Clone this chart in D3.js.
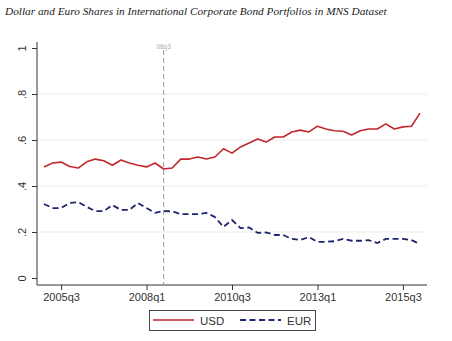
<!DOCTYPE html>
<head>
  <meta charset="utf-8">
  <script src="https://d3js.org/d3.v7.min.js"></script>
  <style>
    body { margin:0; background:#fff; }
    text { font-family: "Liberation Sans", Arial, sans-serif; }
  </style>
</head>
<body>
<script>

// quarterly shares, 2005q1 .. 2016q1
var quarters = [];
for (var yr = 2005; yr <= 2016; yr++) {
  for (var q = 1; q <= 4; q++) {
    if (yr == 2016 && q > 1) break;
    quarters.push(yr + "q" + q);
  }
}

var usd = [0.483, 0.500, 0.504, 0.485, 0.478, 0.505, 0.517, 0.510, 0.490, 0.513, 0.500, 0.490,
           0.483, 0.500, 0.474, 0.478, 0.517, 0.517, 0.526, 0.517, 0.526, 0.562, 0.543, 0.570,
           0.587, 0.604, 0.591, 0.613, 0.613, 0.635, 0.643, 0.635, 0.660, 0.648, 0.640, 0.638,
           0.622, 0.640, 0.648, 0.648, 0.670, 0.648, 0.657, 0.660, 0.717];

var eur = [0.322, 0.304, 0.304, 0.326, 0.330, 0.309, 0.291, 0.291, 0.317, 0.296, 0.296, 0.326,
           0.304, 0.283, 0.291, 0.290, 0.278, 0.278, 0.278, 0.283, 0.265, 0.222, 0.252, 0.217,
           0.220, 0.196, 0.198, 0.187, 0.187, 0.170, 0.165, 0.178, 0.157, 0.157, 0.160, 0.170,
           0.162, 0.162, 0.165, 0.152, 0.170, 0.170, 0.170, 0.165, 0.148];

var xTicks = ["2005q3", "2008q1", "2010q3", "2013q1", "2015q3"];
var yTicks = [0, 0.2, 0.4, 0.6, 0.8, 1];
var markQuarter = "2008q3";
var markLabel = "08q3";

var width = 452, height = 341;
var plot = {left: 37, right: 427, top: 42, bottom: 285};

var svg = d3.select("body").append("svg")
    .attr("width", width)
    .attr("height", height);

var x = d3.scaleLinear()
    .domain([0, quarters.length - 1])
    .range([44, 420]);
var y = d3.scaleLinear()
    .domain([0, 1])
    .range([278, 48]);

// title
svg.append("text")
    .attr("x", 5).attr("y", 15)
    .style("font-family", "'Liberation Serif', 'Times New Roman', serif")
    .style("font-style", "italic")
    .style("font-size", "11.3px")
    .attr("fill", "#222")
    .text("Dollar and Euro Shares in International Corporate Bond Portfolios in MNS Dataset");

// gridlines
svg.append("g").selectAll("line")
  .data(yTicks.filter(function(d){ return d > 0 && d < 1; }))
  .enter().append("line")
    .attr("x1", plot.left).attr("x2", plot.right)
    .attr("y1", function(d){ return y(d); })
    .attr("y2", function(d){ return y(d); })
    .attr("stroke", "#ebebeb")
    .attr("stroke-width", 1);

// y axis
var yAxis = svg.append("g")
    .attr("transform", "translate(" + plot.left + ",0)")
    .call(d3.axisLeft(y).tickValues(yTicks).tickSize(5)
      .tickFormat(function(d){ return d == 0 || d == 1 ? String(d) : String(d).replace("0.", "."); }));
yAxis.select(".domain").remove();
yAxis.selectAll(".tick line").attr("stroke", "#333");
yAxis.selectAll(".tick text")
    .attr("x", null).attr("dy", null)
    .attr("transform", "translate(-11,0) rotate(-90)")
    .attr("text-anchor", "middle")
    .style("font-size", "11px")
    .attr("fill", "#333");

// x axis
var xAxis = svg.append("g")
    .attr("transform", "translate(0," + plot.bottom + ")")
    .call(d3.axisBottom(x)
      .tickValues(xTicks.map(function(t){ return quarters.indexOf(t); }))
      .tickSize(5)
      .tickFormat(function(i){ return quarters[i]; }));
xAxis.select(".domain").remove();
xAxis.selectAll(".tick line").attr("stroke", "#333");
xAxis.selectAll(".tick text")
    .attr("y", 8)
    .style("font-size", "11px")
    .attr("fill", "#333");

// axis lines
svg.append("line")
    .attr("x1", plot.left).attr("x2", plot.left)
    .attr("y1", plot.top).attr("y2", plot.bottom)
    .attr("stroke", "#333");
svg.append("line")
    .attr("x1", plot.left).attr("x2", plot.right)
    .attr("y1", plot.bottom).attr("y2", plot.bottom)
    .attr("stroke", "#333");

// crisis marker
var xm = x(quarters.indexOf(markQuarter));
svg.append("line")
    .attr("x1", xm).attr("x2", xm)
    .attr("y1", 50).attr("y2", plot.bottom)
    .attr("stroke", "#9a9a9a")
    .attr("stroke-width", 1)
    .attr("stroke-dasharray", "5,3");
svg.append("text")
    .attr("x", xm).attr("y", 49)
    .attr("text-anchor", "middle")
    .style("font-size", "6.5px")
    .attr("fill", "#aaa")
    .text(markLabel);

var line = d3.line()
    .x(function(d, i){ return x(i); })
    .y(function(d){ return y(d); });

svg.append("path")
    .datum(usd)
    .attr("fill", "none")
    .attr("stroke", "#c1272d")
    .attr("stroke-width", 1.6)
    .attr("stroke-linejoin", "round")
    .attr("d", line);

svg.append("path")
    .datum(eur)
    .attr("fill", "none")
    .attr("stroke", "#1f2470")
    .attr("stroke-width", 1.8)
    .attr("stroke-dasharray", "6,3.5")
    .attr("d", line);

// legend
var leg = svg.append("g");
leg.append("rect")
    .attr("x", 149.5).attr("y", 310.5)
    .attr("width", 166).attr("height", 20)
    .attr("fill", "#fff")
    .attr("stroke", "#444");
leg.append("line")
    .attr("x1", 153).attr("x2", 194).attr("y1", 320).attr("y2", 320)
    .attr("stroke", "#c1272d").attr("stroke-width", 1.6);
leg.append("text")
    .attr("x", 200).attr("y", 324.5)
    .style("font-size", "11.5px").attr("fill", "#333")
    .text("USD");
leg.append("line")
    .attr("x1", 240).attr("x2", 281).attr("y1", 320).attr("y2", 320)
    .attr("stroke", "#1f2470").attr("stroke-width", 1.8)
    .attr("stroke-dasharray", "6,3.5");
leg.append("text")
    .attr("x", 287).attr("y", 324.5)
    .style("font-size", "11.5px").attr("fill", "#333")
    .text("EUR");

</script>
</body>
